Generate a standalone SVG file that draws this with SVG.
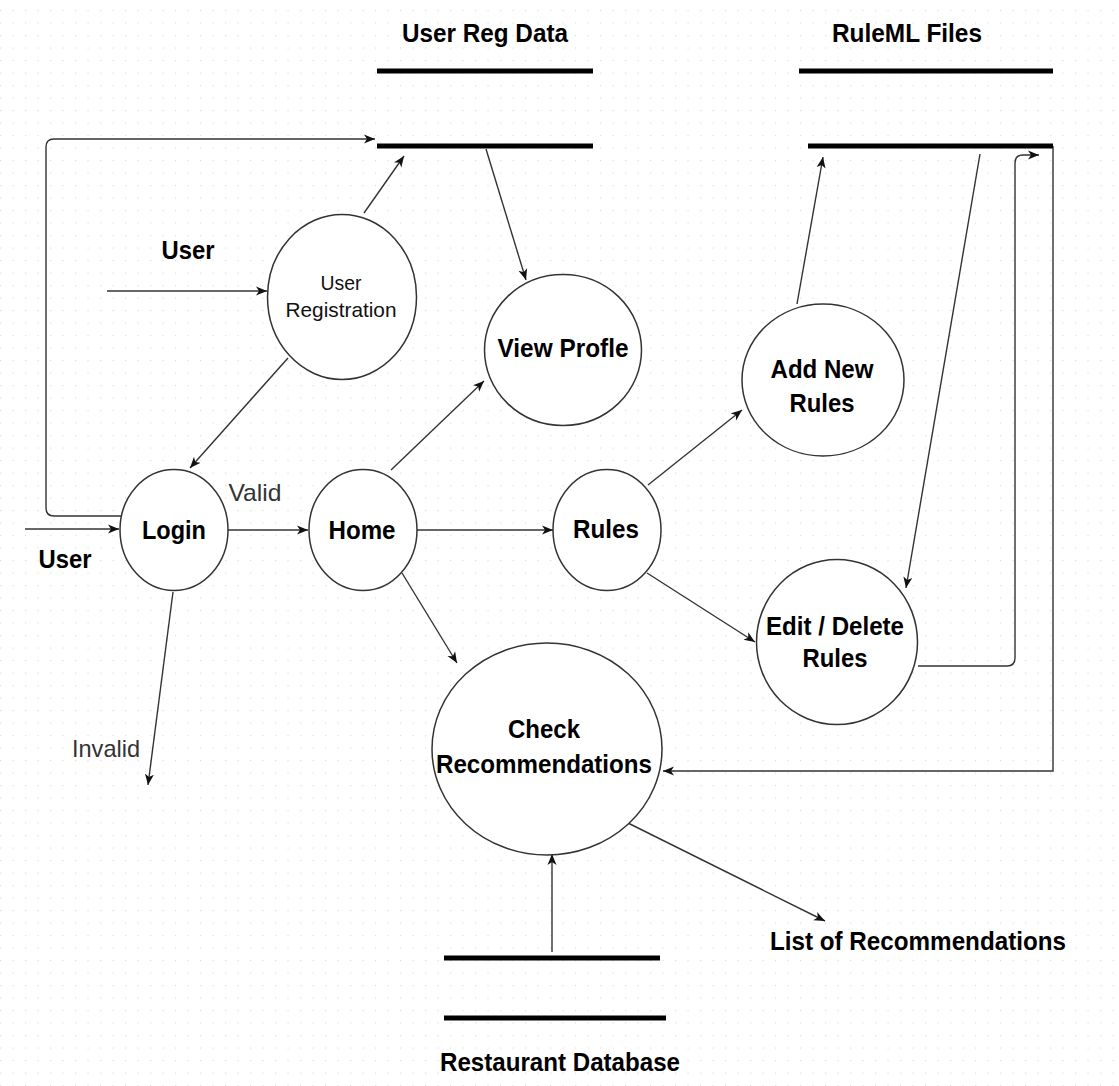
<svg xmlns="http://www.w3.org/2000/svg" width="1119" height="1086" viewBox="0 0 1119 1086">
<style>
.bg{fill:#ffffff}
.proc{fill:#ffffff;stroke:#333333;stroke-width:1.5}
.store{stroke:#000000;stroke-width:5;fill:none}
.conn{stroke:#333333;stroke-width:1.4;fill:none}
.b{font-family:"Liberation Sans",Arial,sans-serif;font-weight:bold;font-size:26px;fill:#000000}
.r{font-family:"Liberation Sans",Arial,sans-serif;font-size:24px;fill:#333333}
.rs{font-family:"Liberation Sans",Arial,sans-serif;font-size:21px;fill:#111111}
</style>
<defs>
<pattern id="grid" x="12.5" y="10" width="12.5" height="12.5" patternUnits="userSpaceOnUse">
<rect x="0" y="0" width="1.2" height="1.2" fill="#dcdcdc"/>
</pattern>
<marker id="arr" markerWidth="12" markerHeight="10" refX="11" refY="5" orient="auto" markerUnits="userSpaceOnUse">
<path d="M0,0.5 L11,5 L0,9.5 L3,5 Z" fill="#111111"/>
</marker>
</defs>
<rect class="bg" x="0" y="0" width="1119" height="1086"/>
<rect x="0" y="0" width="1119" height="1086" fill="url(#grid)"/>

<g id="connectors">
<path class="conn" d="M107,291 L267,291" marker-end="url(#arr)"/>
<path class="conn" d="M364,213 L404,156" marker-end="url(#arr)"/>
<path class="conn" d="M486,149 L526,280" marker-end="url(#arr)"/>
<path class="conn" d="M288,358 L190,468" marker-end="url(#arr)"/>
<path class="conn" d="M127,516 L54,516 Q46,516 46,508 L46,147 Q46,139 54,139 L375,139" marker-end="url(#arr)"/>
<path class="conn" d="M25,529 L119,529" marker-end="url(#arr)"/>
<path class="conn" d="M228,530 L308,530" marker-end="url(#arr)"/>
<path class="conn" d="M173,592 L148,785" marker-end="url(#arr)"/>
<path class="conn" d="M391,470 L484,381" marker-end="url(#arr)"/>
<path class="conn" d="M417,530 L553,530" marker-end="url(#arr)"/>
<path class="conn" d="M402,573 L457,663" marker-end="url(#arr)"/>
<path class="conn" d="M648,485 L742,410" marker-end="url(#arr)"/>
<path class="conn" d="M647,573 L755,642" marker-end="url(#arr)"/>
<path class="conn" d="M797,304 L823,157" marker-end="url(#arr)"/>
<path class="conn" d="M980,154 L906,588" marker-end="url(#arr)"/>
<path class="conn" d="M918,666 L1007,666 Q1015,666 1015,658 L1015,163 Q1015,155 1023,155 L1039,155" marker-end="url(#arr)"/>
<path class="conn" d="M1053,146 L1053,771 L663,771" marker-end="url(#arr)"/>
<path class="conn" d="M552,952 L552,854" marker-end="url(#arr)"/>
<path class="conn" d="M628,823 L825,921" marker-end="url(#arr)"/>
</g>

<g id="store-user-reg-data">
<line class="store" x1="377" y1="71" x2="593" y2="71"/>
<line class="store" x1="377" y1="146" x2="593" y2="146"/>
<text class="b" x="485" y="42" text-anchor="middle" textLength="166" lengthAdjust="spacingAndGlyphs">User Reg Data</text>
</g>
<g id="store-ruleml-files">
<line class="store" x1="799" y1="71" x2="1053" y2="71"/>
<line class="store" x1="808" y1="146" x2="1053" y2="146"/>
<text class="b" x="907" y="42" text-anchor="middle" textLength="150" lengthAdjust="spacingAndGlyphs">RuleML Files</text>
</g>
<g id="store-restaurant-db">
<line class="store" x1="444" y1="958" x2="660" y2="958"/>
<line class="store" x1="444" y1="1018" x2="666" y2="1018"/>
<text class="b" x="560" y="1071" text-anchor="middle" textLength="240" lengthAdjust="spacingAndGlyphs">Restaurant Database</text>
</g>

<g id="ext-user-top">
<text class="b" x="188" y="259" text-anchor="middle" textLength="53" lengthAdjust="spacingAndGlyphs">User</text>
</g>
<g id="ext-user-left">
<text class="b" x="65" y="568" text-anchor="middle" textLength="53" lengthAdjust="spacingAndGlyphs">User</text>
</g>
<g id="label-valid">
<text class="r" x="255" y="501" text-anchor="middle" textLength="53" lengthAdjust="spacingAndGlyphs">Valid</text>
</g>
<g id="label-invalid">
<text class="r" x="106" y="757" text-anchor="middle" textLength="68" lengthAdjust="spacingAndGlyphs">Invalid</text>
</g>
<g id="ext-list">
<text class="b" x="918" y="950" text-anchor="middle" textLength="296" lengthAdjust="spacingAndGlyphs">List of Recommendations</text>
</g>

<g id="node-user-registration">
<ellipse class="proc" cx="342" cy="297" rx="74.5" ry="82.5"/>
<text class="rs" x="341" y="290" text-anchor="middle" textLength="41" lengthAdjust="spacingAndGlyphs">User</text>
<text class="rs" x="341" y="317" text-anchor="middle" textLength="111" lengthAdjust="spacingAndGlyphs">Registration</text>
</g>
<g id="node-view-profile">
<ellipse class="proc" cx="563" cy="350" rx="78.5" ry="75.5"/>
<text class="b" x="563" y="357" text-anchor="middle" textLength="131" lengthAdjust="spacingAndGlyphs">View Profle</text>
</g>
<g id="node-login">
<ellipse class="proc" cx="174" cy="530" rx="54" ry="60.5"/>
<text class="b" x="174" y="539" text-anchor="middle" textLength="64" lengthAdjust="spacingAndGlyphs">Login</text>
</g>
<g id="node-home">
<ellipse class="proc" cx="363" cy="530" rx="54" ry="60.5"/>
<text class="b" x="362" y="539" text-anchor="middle" textLength="67" lengthAdjust="spacingAndGlyphs">Home</text>
</g>
<g id="node-rules">
<ellipse class="proc" cx="607" cy="530" rx="54" ry="60.5"/>
<text class="b" x="606" y="538" text-anchor="middle" textLength="66" lengthAdjust="spacingAndGlyphs">Rules</text>
</g>
<g id="node-add-new-rules">
<ellipse class="proc" cx="823" cy="380" rx="81" ry="76"/>
<text class="b" x="822" y="378" text-anchor="middle" textLength="103" lengthAdjust="spacingAndGlyphs">Add New</text>
<text class="b" x="822" y="412" text-anchor="middle" textLength="65" lengthAdjust="spacingAndGlyphs">Rules</text>
</g>
<g id="node-edit-delete-rules">
<ellipse class="proc" cx="837" cy="642" rx="80.5" ry="82.5"/>
<text class="b" x="835" y="635" text-anchor="middle" textLength="138" lengthAdjust="spacingAndGlyphs">Edit / Delete</text>
<text class="b" x="835" y="667" text-anchor="middle" textLength="65" lengthAdjust="spacingAndGlyphs">Rules</text>
</g>
<g id="node-check-recommendations">
<ellipse class="proc" cx="547" cy="749" rx="115" ry="106"/>
<text class="b" x="544" y="738" text-anchor="middle" textLength="72" lengthAdjust="spacingAndGlyphs">Check</text>
<text class="b" x="544" y="773" text-anchor="middle" textLength="216" lengthAdjust="spacingAndGlyphs">Recommendations</text>
</g>
</svg>
